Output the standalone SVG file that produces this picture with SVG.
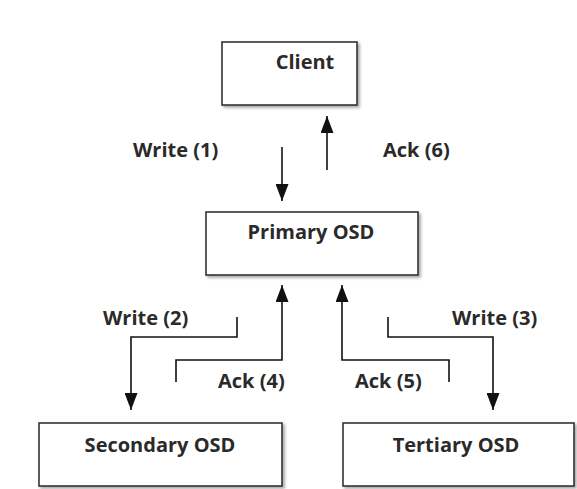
<svg xmlns="http://www.w3.org/2000/svg" width="577" height="489" viewBox="0 0 577 489">
  <defs>
    <filter id="shadow" x="-5%" y="-10%" width="115%" height="130%">
      <feDropShadow dx="2" dy="2" stdDeviation="1.5" flood-color="#000" flood-opacity="0.35"/>
    </filter>
    <marker id="arrow" viewBox="0 0 17 13" refX="17" refY="6.5" markerWidth="17" markerHeight="13" markerUnits="userSpaceOnUse" orient="auto">
      <path d="M0,0 L17,6.5 L0,13 Z" fill="#111"/>
    </marker>
  </defs>
  <style>
    .box { fill: #fff; stroke: #333; stroke-width: 1.6; filter: url(#shadow); }
    .title { font-family: "Open Sans", "DejaVu Sans", sans-serif; font-weight: bold; font-size: 20px; fill: #2a2a2a; text-anchor: middle; }
    .label { font-family: "Open Sans", "DejaVu Sans", sans-serif; font-weight: bold; font-size: 20px; fill: #2a2a2a; }
    .conn { fill: none; stroke: #111; stroke-width: 1.6; marker-end: url(#arrow); }
  </style>
  <rect width="577" height="489" fill="#fff"/>

  <g id="client">
    <rect class="box" x="222" y="42" width="135" height="63"/>
    <text class="title" x="305" y="69">Client</text>
  </g>
  <g id="primary-osd">
    <rect class="box" x="206" y="212" width="212" height="63"/>
    <text class="title" x="311" y="239">Primary OSD</text>
  </g>
  <g id="secondary-osd">
    <rect class="box" x="39" y="423" width="243" height="63"/>
    <text class="title" x="160" y="452">Secondary OSD</text>
  </g>
  <g id="tertiary-osd">
    <rect class="box" x="343" y="423" width="231" height="63"/>
    <text class="title" x="456" y="452">Tertiary OSD</text>
  </g>

  <g id="connectors">
    <path class="conn" d="M282,147 V201"/>
    <path class="conn" d="M327,170 V116"/>
    <path class="conn" d="M237,317 V337 H131 V410"/>
    <path class="conn" d="M176,382 V360 H282 V285"/>
    <path class="conn" d="M449,382 V360 H342 V285"/>
    <path class="conn" d="M388,317 V337 H493 V410"/>
  </g>

  <g id="labels">
    <text class="label" x="133" y="157">Write (1)</text>
    <text class="label" x="383" y="157">Ack (6)</text>
    <text class="label" x="103" y="325">Write (2)</text>
    <text class="label" x="452" y="325">Write (3)</text>
    <text class="label" x="218" y="388">Ack (4)</text>
    <text class="label" x="355" y="388">Ack (5)</text>
  </g>
</svg>
